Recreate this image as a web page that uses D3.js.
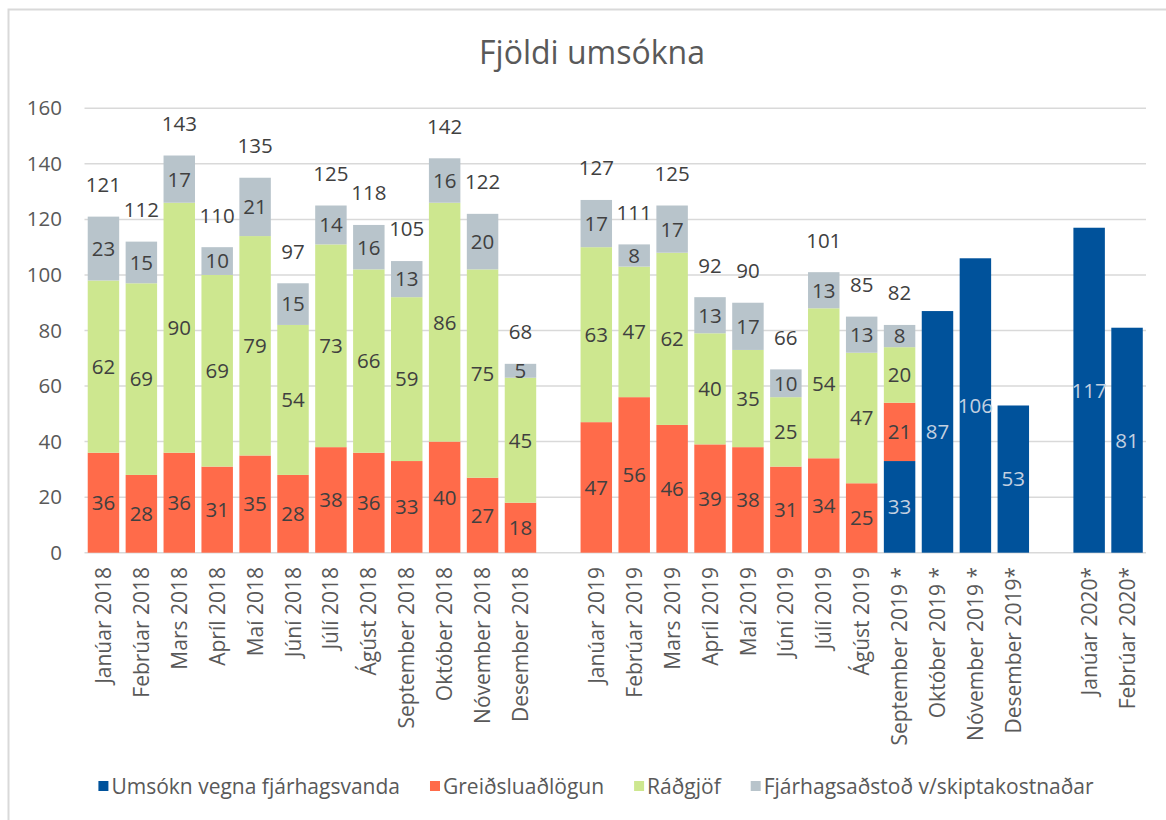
<!DOCTYPE html>
<html>
<head>
<meta charset="utf-8">
<script src="https://cdn.jsdelivr.net/npm/d3@7"></script>
<style>
  html, body { margin: 0; padding: 0; background: #fff; }
  svg { display: block; font-family: "Open Sans", "Noto Sans", sans-serif; }
</style>
</head>
<body>
<svg id="chart" width="1166" height="820"></svg>
<script>
// ---- Data ----
const title = "Fjöldi umsókna";
const categories = [
  "Janúar 2018","Febrúar 2018","Mars 2018","Apríl 2018","Maí 2018","Júní 2018",
  "Júlí 2018","Ágúst 2018","September 2018","Október 2018","Nóvember 2018","Desember 2018",
  "",
  "Janúar 2019","Febrúar 2019","Mars 2019","Apríl 2019","Maí 2019","Júní 2019",
  "Júlí 2019","Ágúst 2019","September 2019 *","Október 2019 *","Nóvember 2019 *","Desember 2019*",
  "",
  "Janúar 2020*","Febrúar 2020*"
];
const seriesNames = ["Umsókn vegna fjárhagsvanda","Greiðsluaðlögun","Ráðgjöf","Fjárhagsaðstoð v/skiptakostnaðar"];
const umsokn = [
  null,null,null,null,null,null,null,null,null,null,null,null,
  null,
  null,null,null,null,null,null,null,null,33,87,106,53,
  null,
  117,81
];
const greidsluadlogun = [
  36,28,36,31,35,28,38,36,33,40,27,18,
  null,
  47,56,46,39,38,31,34,25,21,null,null,null,
  null,
  null,null
];
const radgjof = [
  62,69,90,69,79,54,73,66,59,86,75,45,
  null,
  63,47,62,40,35,25,54,47,20,null,null,null,
  null,
  null,null
];
const fjarhagsadstod = [
  23,15,17,10,21,15,14,16,13,16,20,5,
  null,
  17,8,17,13,17,10,13,13,8,null,null,null,
  null,
  null,null
];
const totals = [
  121,112,143,110,135,97,125,118,105,142,122,68,
  null,
  127,111,125,92,90,66,101,85,82,null,null,null,
  null,
  null,null
];
const yTicks = [0,20,40,60,80,100,120,140,160];

// ---- Styles ----
const colors = ["#00529B","#FF6B4A","#CDE78F","#B8C4CB"];
const labelColors = ["#C3D0E0","#404040","#404040","#404040"];
const textColor = "#595959";

const svg = d3.select("#chart");
const W = 1166, H = 820;
const plot = { left: 84.5, right: 1146, top: 108.3, bottom: 552.7 };

// outer border (chart area frame)
svg.append("path")
  .attr("d", `M8.5,${H} V9.5 H${W}`)
  .attr("fill","none").attr("stroke","#d9d9d9").attr("stroke-width",2);

const x = d3.scaleBand()
  .domain(d3.range(categories.length))
  .range([plot.left, plot.right])
  .paddingInner(0.17).paddingOuter(0.085);

const y = d3.scaleLinear().domain([0,160]).range([plot.bottom, plot.top]);

// gridlines
svg.append("g").selectAll("line").data(yTicks).join("line")
  .attr("x1", plot.left).attr("x2", plot.right)
  .attr("y1", d => y(d)).attr("y2", d => y(d))
  .attr("stroke", "#d9d9d9").attr("stroke-width", 1.5);

// y axis labels
const yAxis = d3.axisLeft(y).tickValues(yTicks).tickSize(0).tickPadding(0);
const yg = svg.append("g").attr("transform", `translate(${62},0)`).call(yAxis);
yg.select(".domain").remove();
yg.selectAll("text").attr("fill", textColor).style("font-size","20.5px")
  .style("font-family", '"Open Sans", sans-serif');

// stacked data
const seriesArrays = [umsokn, greidsluadlogun, radgjof, fjarhagsadstod];
const rows = categories.map((c,i) => {
  const r = { i };
  seriesArrays.forEach((arr,k) => r["s"+k] = arr[i] || 0);
  return r;
});
const stack = d3.stack().keys(["s0","s1","s2","s3"]);
const stacked = stack(rows);

const gBars = svg.append("g");
stacked.forEach((layer, k) => {
  const g = gBars.append("g");
  const segs = layer.filter(d => d[1] - d[0] > 0);
  g.selectAll("rect").data(segs).join("rect")
    .attr("x", d => x(d.data.i))
    .attr("width", x.bandwidth())
    .attr("y", d => y(d[1]))
    .attr("height", d => y(d[0]) - y(d[1]))
    .attr("fill", colors[k]);
  g.selectAll("text").data(segs).join("text")
    .attr("x", d => x(d.data.i) + x.bandwidth()/2)
    .attr("y", d => (y(d[0]) + y(d[1]))/2)
    .attr("dy","0.36em")
    .attr("text-anchor","middle")
    .attr("fill", labelColors[k])
    .style("font-size","20.5px")
    .text(d => d[1] - d[0]);
});

// total labels
svg.append("g").selectAll("text")
  .data(totals.map((t,i) => ({t,i})).filter(d => d.t != null))
  .join("text")
  .attr("x", d => x(d.i) + x.bandwidth()/2)
  .attr("y", d => y(d.t) - 32)
  .attr("dy","0.36em")
  .attr("text-anchor","middle")
  .attr("fill","#404040")
  .style("font-size","20.5px")
  .text(d => d.t);

// category labels (rotated)
svg.append("g").selectAll("text")
  .data(categories.map((c,i) => ({c,i})).filter(d => d.c !== ""))
  .join("text")
  .attr("transform", d => `translate(${x(d.i) + x.bandwidth()/2},567) rotate(-90)`)
  .attr("dy","0.36em")
  .attr("text-anchor","end")
  .attr("fill", textColor)
  .style("font-size","21px")
  .text(d => d.c);

// title
svg.append("text")
  .attr("x", 592).attr("y", 64)
  .attr("text-anchor","middle")
  .attr("fill", textColor)
  .style("font-size","32px")
  .text(title);

// legend
const legend = svg.append("g");
let lx = 0;
const items = [];
seriesNames.forEach((name,k) => {
  const g = legend.append("g");
  g.append("rect").attr("x",0).attr("y",-5).attr("width",10).attr("height",10).attr("fill",colors[k]);
  const t = g.append("text").attr("x",13).attr("dy","0.36em")
    .attr("fill",textColor).style("font-size","21px").text(name);
  const w = 13 + t.node().getComputedTextLength();
  items.push({g, w});
});
const gap = 30;
const totalW = d3.sum(items, d => d.w) + gap*(items.length-1);
lx = 596 - totalW/2;
items.forEach(it => { it.g.attr("transform", `translate(${lx},786)`); lx += it.w + gap; });
</script>
</body>
</html>
